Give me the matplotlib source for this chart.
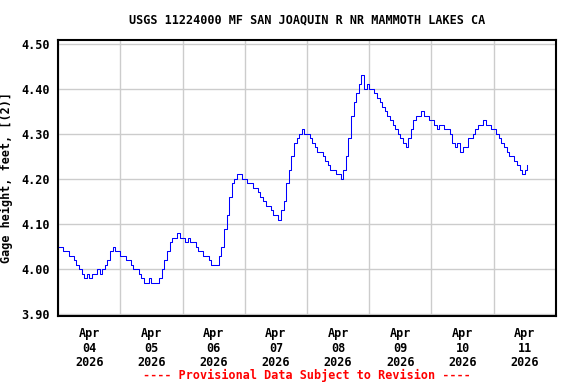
import matplotlib
matplotlib.use('Agg')
import matplotlib.pyplot as plt
import matplotlib.dates as mdates
import pandas as pd

# hourly gage height, one list per day
apr04 = [4.05, 4.05, 4.04, 4.04, 4.03, 4.03, 4.02, 4.01, 4.00, 3.99, 3.98, 3.99,
         3.98, 3.99, 3.99, 4.00, 3.99, 4.00, 4.01, 4.02, 4.04, 4.05, 4.04, 4.04]
apr05 = [4.03, 4.03, 4.02, 4.02, 4.01, 4.00, 4.00, 3.99, 3.98, 3.97, 3.97, 3.98,
         3.97, 3.97, 3.97, 3.98, 4.00, 4.02, 4.04, 4.06, 4.07, 4.07, 4.08, 4.07]
apr06 = [4.07, 4.06, 4.07, 4.06, 4.06, 4.05, 4.04, 4.04, 4.03, 4.03, 4.02, 4.01,
         4.01, 4.01, 4.03, 4.05, 4.09, 4.12, 4.16, 4.19, 4.20, 4.21, 4.21, 4.20]
apr07 = [4.20, 4.19, 4.19, 4.18, 4.18, 4.17, 4.16, 4.15, 4.14, 4.14, 4.13, 4.12,
         4.12, 4.11, 4.13, 4.15, 4.19, 4.22, 4.25, 4.28, 4.29, 4.30, 4.31, 4.30]
apr08 = [4.30, 4.29, 4.28, 4.27, 4.26, 4.26, 4.25, 4.24, 4.23, 4.22, 4.22, 4.21,
         4.21, 4.20, 4.22, 4.25, 4.29, 4.34, 4.37, 4.39, 4.41, 4.43, 4.40, 4.41]
apr09 = [4.40, 4.40, 4.39, 4.38, 4.37, 4.36, 4.35, 4.34, 4.33, 4.32, 4.31, 4.30,
         4.29, 4.28, 4.27, 4.29, 4.31, 4.33, 4.34, 4.34, 4.35, 4.34, 4.34, 4.33]
apr10 = [4.33, 4.32, 4.31, 4.32, 4.32, 4.31, 4.31, 4.30, 4.28, 4.27, 4.28, 4.26,
         4.27, 4.27, 4.29, 4.29, 4.30, 4.31, 4.32, 4.32, 4.33, 4.32, 4.32, 4.31]
apr11 = [4.31, 4.30, 4.29, 4.28, 4.27, 4.26, 4.25, 4.25, 4.24, 4.23, 4.22, 4.21,
         4.22, 4.23]

heights = apr04 + apr05 + apr06 + apr07 + apr08 + apr09 + apr10 + apr11
times = pd.date_range('2026-04-04 00:00', periods=len(heights), freq='h')

yticks = [3.90, 4.00, 4.10, 4.20, 4.30, 4.40, 4.50]
day_labels = pd.date_range('2026-04-04 12:00', periods=8, freq='D')

font = 'DejaVu Sans Mono'

fig = plt.figure(figsize=(5.76, 3.84), dpi=100)
ax = fig.add_axes([0.101, 0.177, 0.864, 0.72])

ax.plot(times, heights, color='#0000ff', linewidth=0.75, drawstyle='steps-post')

ax.set_xlim(pd.Timestamp('2026-04-04'), pd.Timestamp('2026-04-12'))
ax.set_ylim(3.896, 4.509)

# gridlines at midnight, labels at noon
ax.xaxis.set_major_locator(mdates.DayLocator())
ax.xaxis.set_major_formatter(plt.NullFormatter())
ax.set_xticks(day_labels, minor=True)
ax.set_xticklabels([d.strftime('%b\n%d\n%Y') for d in day_labels], minor=True,
                   fontfamily=font, fontweight='bold', fontsize=8.5, linespacing=1.15)
ax.set_yticks(yticks)
ax.set_yticklabels(['%.2f' % v for v in yticks], fontfamily=font, fontweight='bold', fontsize=8.5)
ax.tick_params(axis='both', which='both', length=0)
ax.tick_params(axis='x', which='minor', pad=8)
ax.tick_params(axis='y', pad=6)

ax.grid(True, which='major', color='#cccccc', linewidth=1)
ax.set_axisbelow(True)
for s in ax.spines.values():
    s.set_linewidth(1.5)

ax.set_ylabel('Gage height, feet, [(2)]', fontfamily=font, fontweight='bold', fontsize=8.5, labelpad=6)
fig.text(0.533, 0.948, 'USGS 11224000 MF SAN JOAQUIN R NR MAMMOTH LAKES CA',
         ha='center', va='center', fontfamily=font, fontweight='bold', fontsize=8.5)
fig.text(0.533, 0.023, '---- Provisional Data Subject to Revision ----',
         ha='center', va='center', fontfamily=font, fontweight='bold', fontsize=8.5, color='red')

fig.savefig('out.png', dpi=100)
